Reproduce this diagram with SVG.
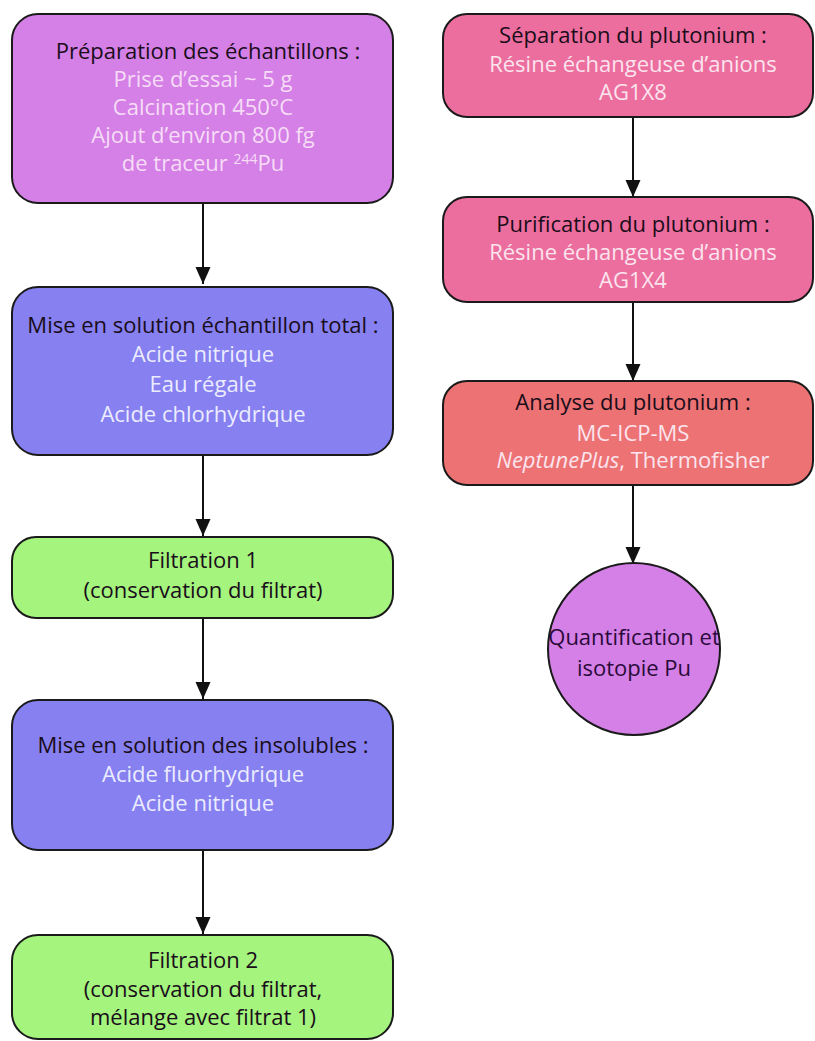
<svg xmlns="http://www.w3.org/2000/svg" width="815" height="1041" viewBox="0 0 815 1041">
<defs>
<marker id="ah" markerWidth="15" markerHeight="18" refX="17" refY="7.5" orient="auto" markerUnits="userSpaceOnUse">
<path d="M0,0 L17,7.5 L0,15 Z" fill="#111"/>
</marker>
<style>
.box{stroke:#1a1a1a;stroke-width:2}
.t{font-family:"Open Sans","Noto Sans",sans-serif;font-size:22px;text-anchor:middle}
.dk{fill:#1a0d1a}
.lp{fill:#f6dcf6}
.lb{fill:#ececff}
.lr{fill:#fbe4ee}
.cn{stroke:#111;stroke-width:2;fill:none}
</style>
</defs>
<rect width="815" height="1041" fill="#fff"/>
<g id="connectors">
<line class="cn" x1="203" y1="203" x2="203" y2="284" marker-end="url(#ah)"/>
<line class="cn" x1="203" y1="455" x2="203" y2="536" marker-end="url(#ah)"/>
<line class="cn" x1="203" y1="618" x2="203" y2="699" marker-end="url(#ah)"/>
<line class="cn" x1="203" y1="850" x2="203" y2="934" marker-end="url(#ah)"/>
<line class="cn" x1="633" y1="117" x2="633" y2="197" marker-end="url(#ah)"/>
<line class="cn" x1="633" y1="302" x2="633" y2="381" marker-end="url(#ah)"/>
<line class="cn" x1="633" y1="485" x2="633" y2="564" marker-end="url(#ah)"/>
</g>
<g id="prep">
<rect class="box" x="12" y="14" width="381" height="189" rx="26" fill="#d480e6"/>
<text class="t dk" x="208" y="59">Préparation des échantillons :</text>
<text class="t lp" x="203" y="87">Prise d’essai ~ 5 g</text>
<text class="t lp" x="203" y="115">Calcination 450°C</text>
<text class="t lp" x="203" y="143">Ajout d’environ 800 fg</text>
<text class="t lp" x="203" y="171">de traceur <tspan font-size="14" dy="-7">244</tspan><tspan dy="7">Pu</tspan></text>
</g>
<g id="mise-total">
<rect class="box" x="12" y="287" width="381" height="168" rx="26" fill="#8680f0"/>
<text class="t dk" x="203" y="333">Mise en solution échantillon total :</text>
<text class="t lb" x="203" y="362">Acide nitrique</text>
<text class="t lb" x="203" y="392">Eau régale</text>
<text class="t lb" x="203" y="422">Acide chlorhydrique</text>
</g>
<g id="filtration1">
<rect class="box" x="12" y="537" width="381" height="81" rx="24" fill="#a4f47e"/>
<text class="t dk" x="203" y="568">Filtration 1</text>
<text class="t dk" x="203" y="598">(conservation du filtrat)</text>
</g>
<g id="mise-insolubles">
<rect class="box" x="12" y="700" width="381" height="150" rx="26" fill="#8680f0"/>
<text class="t dk" x="203" y="753">Mise en solution des insolubles :</text>
<text class="t lb" x="203" y="782">Acide fluorhydrique</text>
<text class="t lb" x="203" y="811">Acide nitrique</text>
</g>
<g id="filtration2">
<rect class="box" x="12" y="935" width="381" height="104" rx="26" fill="#a4f47e"/>
<text class="t dk" x="203" y="968">Filtration 2</text>
<text class="t dk" x="203" y="997">(conservation du filtrat,</text>
<text class="t dk" x="203" y="1025">mélange avec filtrat 1)</text>
</g>
<g id="separation">
<rect class="box" x="443" y="14" width="370" height="103" rx="24" fill="#ec6e9e"/>
<text class="t dk" x="633" y="43">Séparation du plutonium :</text>
<text class="t lr" x="633" y="72">Résine échangeuse d’anions</text>
<text class="t lr" x="633" y="100">AG1X8</text>
</g>
<g id="purification">
<rect class="box" x="443" y="197" width="370" height="105" rx="24" fill="#ec6e9e"/>
<text class="t dk" x="633" y="232">Purification du plutonium :</text>
<text class="t lr" x="633" y="260">Résine échangeuse d’anions</text>
<text class="t lr" x="633" y="288">AG1X4</text>
</g>
<g id="analyse">
<rect class="box" x="443" y="381" width="370" height="104" rx="24" fill="#ec7274"/>
<text class="t dk" x="633" y="410">Analyse du plutonium :</text>
<text class="t lr" x="633" y="441">MC-ICP-MS</text>
<text class="t lr" x="633" y="468"><tspan font-style="italic">NeptunePlus</tspan>, Thermofisher</text>
</g>
<g id="quantification">
<circle class="box" cx="634" cy="649" r="86" fill="#d480e6"/>
<text class="t" fill="#2a0a3a" x="634" y="645">Quantification et</text>
<text class="t" fill="#2a0a3a" x="634" y="676">isotopie Pu</text>
</g>
</svg>
